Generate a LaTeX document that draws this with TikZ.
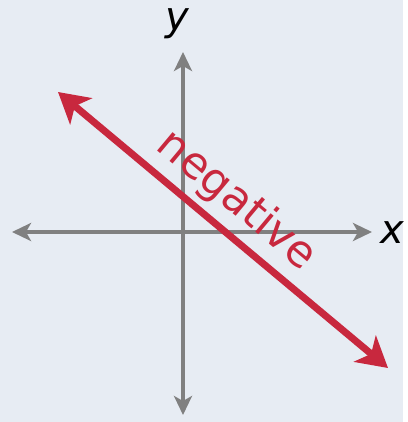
\documentclass[tikz,border=0pt]{standalone}
\usepackage{fontspec}
\setmainfont{DejaVu Sans}
\usetikzlibrary{arrows.meta}

\definecolor{bgblue}{HTML}{E7ECF3}
\definecolor{axisgray}{HTML}{808080}
\definecolor{negred}{HTML}{C8283E}

\begin{document}
\begin{tikzpicture}[x=1pt, y=-1pt,
    axis/.style={axisgray, line width=4.5pt,
      {Stealth[length=19pt,width=18pt,inset=5pt]}-{Stealth[length=19pt,width=18pt,inset=5pt]}},
    trend/.style={negred, line width=7pt,
      {Stealth[length=30pt,width=34pt,inset=8pt]}-{Stealth[length=30pt,width=34pt,inset=8pt]}},
    axislabel/.style={font=\fontsize{40}{44}\selectfont\itshape}]
      \fill[bgblue] (0,0) rectangle (403,422);
      % axes
      \coordinate (xl) at (12,232);
      \coordinate (xr) at (372,232);
      \coordinate (yt) at (183,52);
      \coordinate (yb) at (183,415);
      \draw[axis] (xl) -- (xr);
      \draw[axis] (yt) -- (yb);
      \node[axislabel] (xlab) at (392,233) {x};
      \node[axislabel] (ylab) at (177,24) {y};
      % negative slope
      \coordinate (ta) at (58,92);
      \coordinate (tb) at (388,368);
      \draw[trend] (ta) -- node[pos=0.48, sloped, above=3pt, text=negred,
        font=\fontsize{44}{48}\selectfont] (neg) {negative} (tb);
    \end{tikzpicture}
\end{document}
